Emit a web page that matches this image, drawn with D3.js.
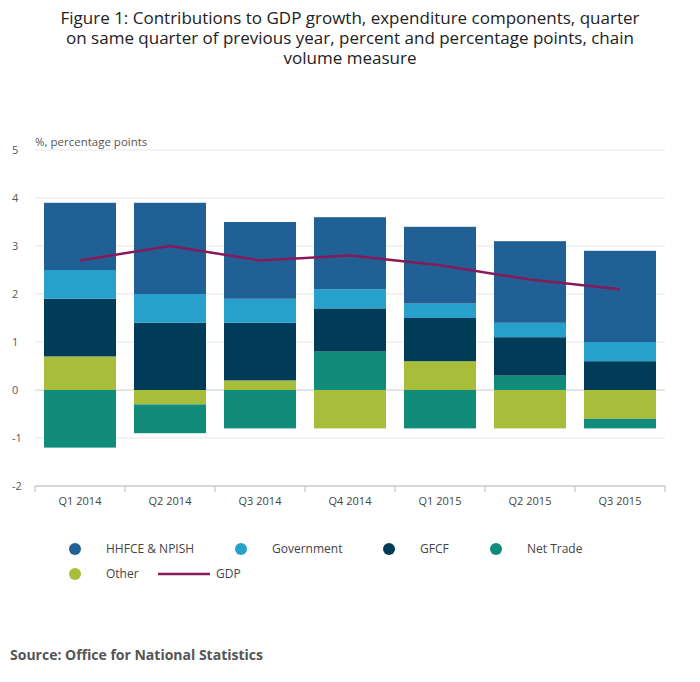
<!DOCTYPE html>
<html><head><meta charset="utf-8">
<script src="https://cdn.jsdelivr.net/npm/d3@7"></script>
<style>body{margin:0;font-family:"Open Sans",sans-serif;background:#fff}</style>
</head><body><svg id="c" width="700" height="682"></svg>
<script>
const quarters = ["Q1 2014","Q2 2014","Q3 2014","Q4 2014","Q1 2015","Q2 2015","Q3 2015"];
const hhfce = [1.4,1.9,1.6,1.5,1.6,1.7,1.9];
const government = [0.6,0.6,0.5,0.4,0.3,0.3,0.4];
const gfcf = [1.2,1.4,1.2,0.9,0.9,0.8,0.6];
const netTrade = [-1.2,-0.6,-0.8,0.8,-0.8,0.3,-0.2];
const other = [0.7,-0.3,0.2,-0.8,0.6,-0.8,-0.6];
const gdp = [2.7,3.0,2.7,2.8,2.6,2.3,2.1];
const yTicks = [-2,-1,0,1,2,3,4,5];

const series = [
  {key:"Other", vals:other, color:"#a8bd3a"},
  {key:"Net Trade", vals:netTrade, color:"#118c7b"},
  {key:"GFCF", vals:gfcf, color:"#003c57"},
  {key:"Government", vals:government, color:"#27a0cc"},
  {key:"HHFCE & NPISH", vals:hhfce, color:"#206095"}
];
const rows = quarters.map((q,i)=>{const r={q};series.forEach(s=>r[s.key]=s.vals[i]);return r;});
const stacked = d3.stack().keys(series.map(s=>s.key)).offset(d3.stackOffsetDiverging)(rows);

const svg = d3.select("#c");
const pLeft=35,pRight=665,pTop=150,pBottom=486;
const x = d3.scaleBand().domain(quarters).range([pLeft,pRight]).paddingInner(0.2).paddingOuter(0.1);
const y = d3.scaleLinear().domain([-2,5]).range([pBottom,pTop]);

svg.append("text").attr("x",350).attr("text-anchor","middle").attr("font-size",17).attr("fill","#222")
  .selectAll("tspan").data(["Figure 1: Contributions to GDP growth, expenditure components, quarter","on same quarter of previous year, percent and percentage points, chain","volume measure"])
  .join("tspan").attr("x",350).attr("y",(d,i)=>24+i*20).text(d=>d);

svg.append("g").selectAll("line").data(yTicks).join("line")
  .attr("x1",pLeft).attr("x2",pRight).attr("y1",d=>y(d)).attr("y2",d=>y(d))
  .attr("stroke",d=>d===0?"#ccc":"#e6e6e6");
svg.append("g").selectAll("text").data(yTicks).join("text")
  .attr("x",12).attr("y",d=>y(d)+4).attr("font-size",11).attr("fill","#555").text(d=>d);
svg.append("text").attr("x",pLeft).attr("y",pTop-4).attr("font-size",11.5).attr("fill","#555").text("%, percentage points");

const sc = Object.fromEntries(series.map(s=>[s.key,s.color]));
svg.append("g").selectAll("g").data(stacked).join("g").attr("fill",d=>sc[d.key])
  .selectAll("rect").data(d=>d).join("rect")
  .attr("x",d=>x(d.data.q)).attr("width",x.bandwidth())
  .attr("y",d=>y(Math.max(d[0],d[1]))).attr("height",d=>Math.abs(y(d[0])-y(d[1])));

svg.append("line").attr("x1",pLeft).attr("x2",pRight).attr("y1",pBottom).attr("y2",pBottom).attr("stroke","#bbb");
const xa = svg.append("g");
const edges = quarters.map(q=>x(q)-x.step()*x.paddingInner()/2).concat([pRight]);
edges.forEach(e=>xa.append("line").attr("x1",e).attr("x2",e).attr("y1",pBottom).attr("y2",pBottom+6).attr("stroke","#bbb"));
xa.selectAll("text").data(quarters).join("text").attr("x",d=>x(d)+x.bandwidth()/2).attr("y",pBottom+19)
  .attr("text-anchor","middle").attr("font-size",11).attr("fill","#444").text(d=>d);

svg.append("path").datum(gdp).attr("fill","none").attr("stroke","#871a5b").attr("stroke-width",2.5)
  .attr("d",d3.line().x((d,i)=>x(quarters[i])+x.bandwidth()/2).y(d=>y(d)));

const legend = [
  {t:"HHFCE & NPISH",c:"#206095",x:75,y:549},{t:"Government",c:"#27a0cc",x:241,y:549},
  {t:"GFCF",c:"#003c57",x:389,y:549},{t:"Net Trade",c:"#118c7b",x:496,y:549},
  {t:"Other",c:"#a8bd3a",x:75,y:574}];
const lg = svg.append("g");
legend.forEach(l=>{
  lg.append("circle").attr("cx",l.x).attr("cy",l.y).attr("r",6).attr("fill",l.c);
  lg.append("text").attr("x",l.x+31).attr("y",l.y+4).attr("font-size",12).attr("fill","#444").text(l.t);
});
lg.append("line").attr("x1",158).attr("x2",210).attr("y1",574).attr("y2",574).attr("stroke","#871a5b").attr("stroke-width",2.5);
lg.append("text").attr("x",216).attr("y",578).attr("font-size",12).attr("fill","#444").text("GDP");

svg.append("text").attr("x",10).attr("y",660).attr("font-size",14).attr("font-weight","bold").attr("fill","#555").text("Source: Office for National Statistics");
</script></body></html>
